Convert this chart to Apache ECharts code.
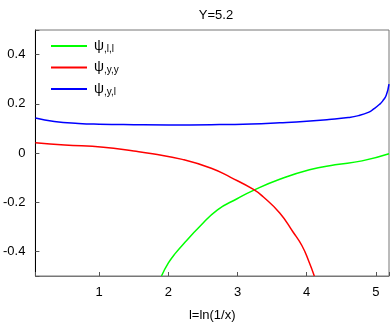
<!DOCTYPE html>
<html><head><meta charset="utf-8">
<script src="https://cdn.jsdelivr.net/npm/echarts@6/dist/echarts.min.js"></script>
<style>html,body{margin:0;padding:0;background:#fff}#c{width:392px;height:327px}</style>
</head><body><div id="c"></div>
<script>
const titleText = 'Y=5.2';
const xName = 'l=ln(1/x)';
const xTicks = [1, 2, 3, 4, 5];
const yTicks = [-0.4, -0.2, 0, 0.2, 0.4];
const legendNames = ['ψ,l,l', 'ψ,y,y', 'ψ,y,l'];

const llX = [1.90, 2.0, 2.1, 2.24, 2.45, 2.71, 3.0, 3.23, 3.61, 4.04, 4.41, 4.8, 5.19];
const llY = [-0.5, -0.447, -0.408, -0.363, -0.30, -0.231, -0.185, -0.152, -0.107, -0.068, -0.048, -0.032, -0.003];

const yyX = [0.077, 0.5, 1.06, 1.5, 1.77, 2.2, 2.62, 2.9, 3.23, 3.37, 3.61, 3.8, 3.93, 4.03, 4.11];
const yyY = [0.042, 0.033, 0.023, 0.008, -0.003, -0.026, -0.062, -0.099, -0.148, -0.178, -0.244, -0.32, -0.376, -0.44, -0.5];

const ylX = [0.077, 0.35, 0.7, 1.0, 1.5, 2.0, 2.62, 3.2, 3.61, 4.0, 4.32, 4.6, 4.75, 4.9, 4.96, 5.05, 5.10, 5.15, 5.19];
const ylY = [0.142, 0.128, 0.120, 0.117, 0.115, 0.114, 0.115, 0.118, 0.123, 0.129, 0.136, 0.144, 0.152, 0.166, 0.177, 0.197, 0.212, 0.235, 0.28];

const zip = (a, b) => a.map((v, i) => [v, b[i]]);
const FONT = 'Liberation Sans';
const chart = echarts.init(document.getElementById('c'));
const xMin = 0.077, xMax = 5.19, yMin = -0.5, yMax = 0.5;
const near = (v, list) => list.some(t => Math.abs(t - v) < 1e-6);
const xFmt = v => near(v, xTicks) ? String(Math.round(v)) : '';
const yFmt = v => near(v, yTicks) ? (Math.abs(v) < 1e-9 ? '0' : v.toFixed(1)) : '';

chart.setOption({
  animation: false,
  backgroundColor: '#fff',
  title: {text: titleText, left: 211, textAlign: 'center', top: 4,
    textStyle: {fontFamily: FONT, fontSize: 13, fontWeight: 'normal', color: '#000'}},
  grid: {left: 31, right: 1, top: 30, bottom: 45, show: true, borderColor: '#777', borderWidth: 1, backgroundColor: 'transparent'},
  legend: {
    orient: 'vertical', left: 46, top: 34, itemWidth: 36, itemHeight: 14, itemGap: 6.5,
    data: legendNames.map(n => ({name: n, icon: 'path://M0,0 L36,0 L36,2 L0,2 Z'})),
    formatter: n => '{m|ψ}{s|' + n.slice(1) + '}',
    textStyle: {padding: [0, 0, 0, 2], fontFamily: FONT, color: '#000',
      rich: {m: {fontSize: 14, fontFamily: FONT, color: '#000'},
             s: {fontSize: 10, fontFamily: FONT, color: '#000', padding: [6, 0, 0, 0]}}}
  },
  xAxis: {
    type: 'value', min: xMin, max: xMax, position: 'bottom',
    splitLine: {show: false},
    axisLine: {show: true, onZero: false, lineStyle: {color: '#777'}},
    axisTick: {show: true, inside: true, length: 4, lineStyle: {color: '#555'}},
    axisLabel: {formatter: xFmt, fontFamily: FONT, fontSize: 13, color: '#000', margin: 10},
    name: xName, nameLocation: 'middle', nameGap: 33,
    nameTextStyle: {fontFamily: FONT, fontSize: 13, color: '#000'}
  },
  yAxis: {
    type: 'value', min: yMin, max: yMax, position: 'left',
    splitLine: {show: false},
    axisLine: {show: true, onZero: false, lineStyle: {color: '#000'}},
    axisTick: {show: true, inside: true, length: 4, lineStyle: {color: '#555'}},
    axisLabel: {formatter: yFmt, fontFamily: FONT, fontSize: 13, color: '#000', margin: 10}
  },
  series: [
    {name: legendNames[0], type: 'line', data: zip(llX, llY), smooth: true, symbol: 'none',
     lineStyle: {color: '#00ff00', width: 1.5}, itemStyle: {color: '#00ff00'}},
    {name: legendNames[1], type: 'line', data: zip(yyX, yyY), smooth: true, symbol: 'none',
     lineStyle: {color: '#ff0000', width: 1.5}, itemStyle: {color: '#ff0000'}},
    {name: legendNames[2], type: 'line', data: zip(ylX, ylY), smooth: true, symbol: 'none',
     lineStyle: {color: '#0000ff', width: 1.5}, itemStyle: {color: '#0000ff'}}
  ]
});
</script></body></html>
